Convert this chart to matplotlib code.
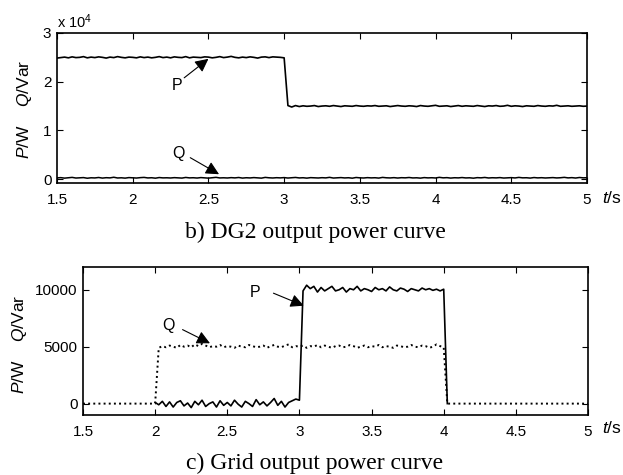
import numpy as np
import matplotlib
matplotlib.use("Agg")
from matplotlib import pyplot as plt

# =======================================================
#   Data (W / Var), 0.025 s step
# =======================================================
T_START, T_END, T_STEP = 1.5, 5.0, 0.025
X_TICKS = [1.5, 2, 2.5, 3, 3.5, 4, 4.5, 5]
X_TICK_LABELS = ['1.5', '2', '2.5', '3', '3.5', '4', '4.5', '5']

# b) DG2 output power
DG2_P = [24850, 24950, 25050, 24900, 25100, 24950, 25000, 25150, 24900, 25050,
         24950, 25100, 25000, 24850, 25050, 24950, 25150, 25000, 24900, 25050,
         25000, 24900, 25100, 24950, 25050, 24900, 25000, 25150, 24950, 25050,
         24900, 25100, 25000, 24950, 25150, 24900, 25050, 25000, 24950, 25100,
         25050, 24900, 25000, 25150, 24950, 25050, 25200, 25000, 24900, 25050,
         24950, 25100, 25000, 24850, 25050, 25100, 24950, 25100, 25050, 25000,
         24900, 15100,
         14800, 15100, 14900, 15050, 14950, 15000, 15100, 14900, 15000, 15050,
         14950, 15100, 15000, 14900, 15050, 15000, 14950, 15100, 15000, 14950,
         15050, 15000, 15100, 14950, 15000, 15050, 14900, 15000, 15100, 15000,
         14950, 15050, 15000, 14900, 15100, 15000, 14950, 15050, 15150, 14950,
         15000, 15050, 14900, 15000, 15100, 14950, 15050, 15000, 14950, 15100,
         15000, 14900, 15050, 15000, 15100, 14950, 15000, 15150, 14950, 15050,
         15000, 14900, 15050, 15000, 14950, 15100, 15000, 14950, 15050, 15000,
         15150, 14950, 15000, 15050, 14950, 15000, 15050, 14950, 15000]
DG2_Q = [250, 300, 200, 280, 350, 220, 260, 310, 180, 270,
         240, 330, 210, 290, 250, 380, 230, 270, 200, 310,
         260, 220, 300, 350, 240, 280, 190, 320, 250, 270,
         230, 300, 260, 210, 340, 250, 280, 220, 310, 260,
         200, 290, 360, 240, 270, 230, 300, 250, 330, 210,
         280, 240, 310, 260, 200, 350, 270, 230, 290, 250,
         310, 220, 270, 340, 240, 280, 200, 300, 260, 230,
         290, 250, 360, 220, 270, 310, 240, 280, 190, 330,
         260, 230, 300, 250, 280, 210, 350, 270, 240, 300,
         220, 290, 260, 330, 240, 270, 200, 310, 250, 280,
         230, 360, 260, 300, 210, 280, 250, 320, 240, 270,
         190, 300, 260, 340, 230, 280, 250, 310, 220, 270,
         300, 240, 350, 260, 280, 210, 320, 250, 290, 230,
         270, 310, 240, 280, 360, 250, 300, 220, 330, 260,
         280]

# c) Grid output power (P only shown between 2 s and 4 s)
NAN = float('nan')
GRID_P = [NAN] * 20 + [
    100,
    -100, 200, -250, 150, -300, 100, 250, -200, 50, -350,
    200, -100, 300, -250, 0, 150, -300, 250, -150, 100,
    -200, 300, -50, -300, 200, 0, -250, 350, -100, 150,
    -200, 100, 450, -150, 200, -300, 100, 250, 400,
    300,
    9900, 10400, 10100, 10300, 9800, 10200, 9900, 10100, 10300, 9900,
    10000, 10200, 9800, 10100, 10000, 10300, 9900, 10100, 10000, 9850,
    10200, 10000, 10100, 9900, 10250, 10000, 9900, 10150, 10050, 9850,
    10100, 10000, 9900, 10150, 10000, 10100, 9950, 10050, 9900, 10050,
    0] + [NAN] * 39
GRID_Q = [0] * 21 + [
    4900, 5050, 4950, 5100, 5000, 4900, 5150, 5000, 5100, 4950,
    5200, 5050, 5250, 5100, 4950, 5050, 5000, 5150, 4950, 5050,
    5000, 4900, 5100, 5000, 4950, 5150, 5050, 4950, 5000, 5100,
    4900, 5050, 5150, 5000, 4950, 5100, 5200, 4950, 5050, 5000,
    5100, 4900, 5050, 5000, 5150, 4950, 5100, 5000, 4900, 5050,
    5100, 4950, 5000, 5150, 5050, 4900, 5000, 5100, 4950, 5050,
    5000, 5150, 4950, 5050, 5000, 4900, 5100, 5050, 4950, 5000,
    5150, 5000, 4950, 5100, 5050, 4900, 5000, 5200, 5050, 4950] + [0] * 40
# =======================================================

t = np.round(np.arange(T_START, T_END + T_STEP / 2, T_STEP), 4)

plt.rcParams['font.family'] = ['Liberation Sans', 'DejaVu Sans']
plt.rcParams['font.size'] = 11
plt.rcParams['mathtext.fontset'] = 'custom'
plt.rcParams['mathtext.rm'] = 'Liberation Sans'
plt.rcParams['mathtext.it'] = 'Liberation Sans:italic'

W, H = 623, 475
fig = plt.figure(figsize=(W / 100, H / 100), dpi=100)


def px_axes(left, top, right, bottom):
    return fig.add_axes([left / W, 1 - bottom / H, (right - left) / W, (bottom - top) / H])


def style_axes(ax):
    ax.tick_params(direction='in', length=4, width=0.8, top=True, right=True,
                   labelsize=11, pad=4)
    ax.tick_params(axis='x', pad=7)
    for s in ax.spines.values():
        s.set_linewidth(1.2)
    ax.set_xlim(T_START, T_END)
    ax.set_xticks(X_TICKS)
    ax.set_xticklabels(X_TICK_LABELS)


arrow = dict(arrowstyle='-|>', color='k', lw=0.8, mutation_scale=20, shrinkA=0, shrinkB=0)

# ---- b) DG2 ----
ax1 = px_axes(57, 33, 587, 183)
ax1.plot(t, DG2_P, color='k', lw=1.2)
ax1.plot(t, DG2_Q, color='k', lw=1.1)
ax1.set_ylim(-800, 30000)
ax1.set_yticks([0, 10000, 20000, 30000])
ax1.set_yticklabels(['0', '1', '2', '3'])
style_axes(ax1)
ax1.text(2.29, 19300, 'P', ha='center', va='center', fontsize=11.5)
ax1.annotate('', xy=(2.5, 24700), xytext=(2.34, 20800), arrowprops=arrow)
ax1.text(2.30, 5300, 'Q', ha='center', va='center', fontsize=11.5)
ax1.annotate('', xy=(2.57, 1000), xytext=(2.38, 4400), arrowprops=arrow)

fig.text(57 / W, 1 - 22 / H, r'x 10$^4$', ha='left', va='center', fontsize=10.5)
fig.text(25 / W, 1 - 109 / H, r'$P$/W    $Q$/Var', rotation=90, ha='center', va='center',
         fontsize=12.5)
fig.text(612 / W, 1 - 198 / H, r'$t$/s', ha='center', va='center', fontsize=12.5)
fig.text(315 / W, 1 - 232 / H, 'b) DG2 output power curve', ha='center', va='center',
         family='Liberation Serif', fontsize=17)

# ---- c) Grid ----
ax2 = px_axes(83, 267, 588, 415)
ax2.plot(t, GRID_P, color='k', lw=1.2)
ax2.plot(t, GRID_Q, color='k', lw=1.4, ls=':')
ax2.set_ylim(-1000, 12000)
ax2.set_yticks([0, 5000, 10000])
style_axes(ax2)
ax2.text(2.69, 9800, 'P', ha='center', va='center', fontsize=11.5)
ax2.annotate('', xy=(3.03, 8600), xytext=(2.82, 9700), arrowprops=arrow)
ax2.text(2.09, 6900, 'Q', ha='center', va='center', fontsize=11.5)
ax2.annotate('', xy=(2.38, 5300), xytext=(2.19, 6500), arrowprops=arrow)

fig.text(20 / W, 1 - 344 / H, r'$P$/W    $Q$/Var', rotation=90, ha='center', va='center',
         fontsize=12.5)
fig.text(612 / W, 1 - 428 / H, r'$t$/s', ha='center', va='center', fontsize=12.5)
fig.text(315 / W, 1 - 463 / H, 'c) Grid output power curve', ha='center', va='center',
         family='Liberation Serif', fontsize=17)

fig.savefig('out.png', dpi=100)
